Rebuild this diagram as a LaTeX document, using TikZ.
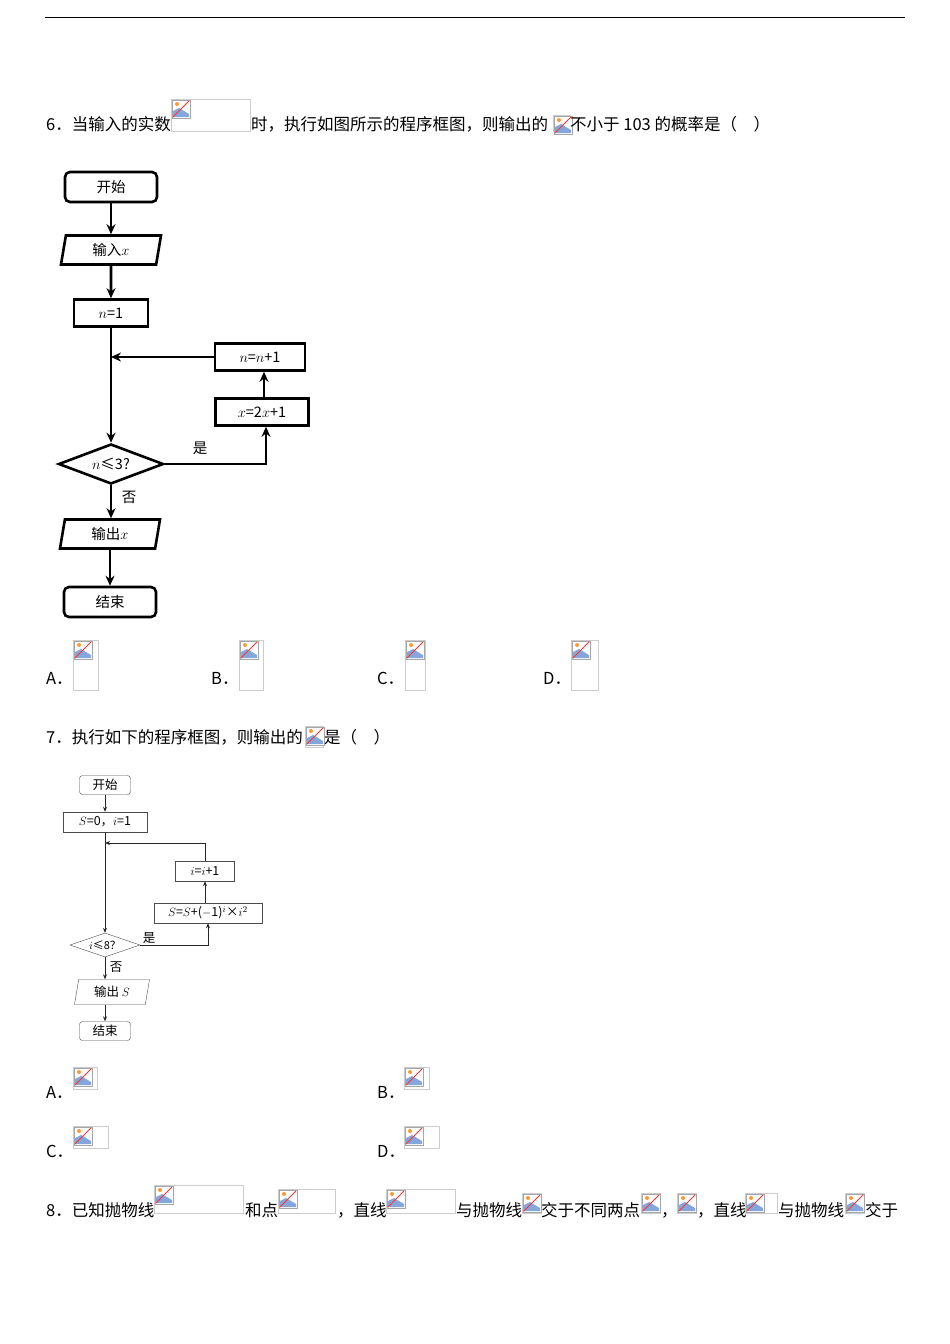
\documentclass[tikz,border=0pt]{standalone}
\usepackage{fontspec}
\setmainfont{Noto Sans CJK SC}
\usetikzlibrary{arrows.meta, shapes.geometric, positioning}

\newcommand\brokenimg[4]{%
  \draw[gray!40, line width=0.8] (#1,#2) rectangle (#3,#4);
  \draw[gray!70, fill=white, line width=0.6] ({#1+1},{#2+1}) rectangle ({#1+19},{#2+19});
  \fill[cyan!50!blue!50] ({#1+2},{#2+18}) -- ({#1+2},{#2+12}) -- ({#1+8},{#2+9}) -- ({#1+18},{#2+15}) -- ({#1+18},{#2+18}) -- cycle;
  \fill[orange!80] ({#1+6},{#2+5}) circle (2);
  \draw[red!80, line width=0.8] ({#1+2},{#2+18}) -- ({#1+18},{#2+2});
}

\begin{document}
\begin{tikzpicture}[x=1pt, y=-1pt, font=\fontsize{16.5}{18}\selectfont]
  \tikzset{txt/.style = {anchor=base west, inner sep=0}}
  \tikzset{fc/.style = {font=\fontsize{14.5}{16}\selectfont}}
  \tikzset{startA/.style = {fc, draw, rounded corners=5, line width=2.6, minimum width=92, minimum height=30, inner sep=0}}
  \tikzset{boxA/.style = {fc, draw, line width=2.6, minimum height=27, inner sep=2}}
  \tikzset{ioA/.style = {fc, draw, trapezium, trapezium left angle=70, trapezium right angle=110, trapezium stretches body, line width=2.6, minimum width=100, minimum height=29, inner sep=0}}
  \tikzset{decA/.style = {fc, draw, diamond, aspect=2.6, line width=2.6, minimum width=105, minimum height=40, inner sep=0}}
  \tikzset{arrowA/.style = {line width=2.6, -{Stealth[length=10, width=9]}}}
  \tikzset{fcB/.style = {font=\fontsize{12.5}{14}\selectfont}}
  \tikzset{startB/.style = {fcB, draw, gray!60!black, text=black, rounded corners=3, minimum width=51, minimum height=19, inner sep=0}}
  \tikzset{boxB/.style = {fcB, draw, gray!60!black, text=black, minimum height=20, inner sep=2}}
  \tikzset{ioB/.style = {fcB, draw, gray!60!black, text=black, trapezium, trapezium left angle=70, trapezium right angle=110, trapezium stretches body, minimum width=75, minimum height=25, inner sep=0}}
  \tikzset{decB/.style = {draw, gray!60!black, text=black, diamond, aspect=2.9, minimum width=70, minimum height=24, inner sep=0, font=\fontsize{11}{13}\selectfont}}
  \tikzset{arrowB/.style = {gray!30!black, line width=0.7, -{Stealth[length=5, width=4]}}}

  \useasboundingbox (0,0) rectangle (950,1344);
  \draw[line width=1] (45,17) -- (905,17);

  % question 6
  \node[txt] (q6a) at (46,130) {6．当输入的实数};
  \brokenimg{171}{99}{250}{131}
  \node[txt] (q6b) at (251,130) {时，执行如图所示的程序框图，则输出的};
  \brokenimg{553}{115}{570}{131}
  \node[txt] (q6c) at (570,130) {不小于 103 的概率是（　）};

  \node[startA] (st1) at (111,187) {开始};
  \node[ioA] (in1) at (111,250) {输入$x$};
  \node[boxA, minimum width=74] (n1) at (111,313) {$n$=1};
  \node[boxA, minimum width=90] (inc1) at (260,357) {$n$=$n$+1};
  \node[boxA, minimum width=93] (upd1) at (262,412) {$x$=2$x$+1};
  \node[decA] (dec1) at (111,464) {$n$≤3?};
  \node[ioA] (out1) at (110,534) {输出$x$};
  \node[startA] (end1) at (110,602) {结束};
  \coordinate (j1) at (111,357);
  \coordinate (r1) at (266,464);

  \draw[arrowA] (st1) -- (in1);
  \draw[arrowA] (in1) -- (n1);
  \draw[arrowA] (n1) -- (dec1);
  \draw[arrowA] (inc1) -- (j1);
  \draw[arrowA] (upd1.north -| 264,0) -- (inc1.south -| 264,0);
  \draw[arrowA] (dec1.east) -- (r1) -- (upd1.south -| r1);
  \draw[arrowA] (dec1.south) -- (dec1.south |- out1.north);
  \draw[arrowA] (out1.south -| end1) -- (end1);
  \node[fc] (yes1) at (200,448) {是};
  \node[fc] (no1) at (129,497) {否};

  \node[txt] (a6) at (46,684) {A．};
  \brokenimg{73}{640}{98}{690}
  \node[txt] (b6) at (211,684) {B．};
  \brokenimg{239}{640}{263}{690}
  \node[txt] (c6) at (377,684) {C．};
  \brokenimg{405}{640}{425}{690}
  \node[txt] (d6) at (543,684) {D．};
  \brokenimg{571}{640}{598}{690}

  % question 7
  \node[txt] (q7a) at (46,743) {7．执行如下的程序框图，则输出的};
  \brokenimg{305}{726}{323}{747}
  \node[txt] (q7b) at (324,743) {是（　）};

  \node[startB] (st2) at (105,785) {开始};
  \node[boxB, minimum width=84] (ini2) at (105,822) {$S$=0，$i$=1};
  \node[boxB, minimum width=59] (inc2) at (205,871) {$i$=$i$+1};
  \node[boxB, minimum width=108] (upd2) at (208,913) {$S$=$S$+($-$1)$^i$×$i^2$};
  \node[decB] (dec2) at (105,945) {$i$≤8？};
  \node[ioB] (out2) at (112,992) {输出 $S$};
  \node[startB] (end2) at (105,1031) {结束};
  \coordinate (j2) at (105,843);
  \coordinate (t2) at (205,843);
  \coordinate (r2) at (208,945);

  \draw[arrowB] (st2) -- (ini2);
  \draw[arrowB] (ini2) -- (dec2);
  \draw[arrowB] (dec2.east) -- (r2) -- (upd2.south -| r2);
  \draw[arrowB] (upd2.north -| inc2) -- (inc2);
  \draw[arrowB] (inc2) -- (t2) -- (j2);
  \draw[arrowB] (dec2.south) -- (dec2.south |- out2.north);
  \draw[arrowB] (out2.south -| end2) -- (end2);
  \node[fcB] (yes2) at (149,938) {是};
  \node[fcB] (no2) at (116,967) {否};

  \node[txt] (a7) at (46,1098) {A．};
  \brokenimg{73}{1067}{97}{1089}
  \node[txt] (b7) at (377,1098) {B．};
  \brokenimg{404}{1067}{429}{1089}
  \node[txt] (c7) at (46,1157) {C．};
  \brokenimg{73}{1126}{108}{1148}
  \node[txt] (d7) at (377,1157) {D．};
  \brokenimg{404}{1126}{439}{1148}

  % question 8
  \node[txt] (q8a) at (46,1216) {8．已知抛物线};
  \brokenimg{154}{1185}{243}{1213}
  \node[txt] (q8b) at (245,1216) {和点};
  \brokenimg{278}{1189}{335}{1213}
  \node[txt] (q8c) at (337,1216) {，直线};
  \brokenimg{386}{1189}{455}{1213}
  \node[txt] (q8d) at (456,1216) {与抛物线};
  \brokenimg{522}{1193}{541}{1213}
  \node[txt] (q8e) at (541,1216) {交于不同两点};
  \brokenimg{641}{1193}{660}{1213}
  \node[txt] (q8f) at (661,1216) {，};
  \brokenimg{677}{1193}{696}{1213}
  \node[txt] (q8g) at (697,1216) {，直线};
  \brokenimg{745}{1193}{777}{1213}
  \node[txt] (q8h) at (778,1216) {与抛物线};
  \brokenimg{845}{1193}{864}{1213}
  \node[txt] (q8i) at (865,1216) {交于};
\end{tikzpicture}
\end{document}
